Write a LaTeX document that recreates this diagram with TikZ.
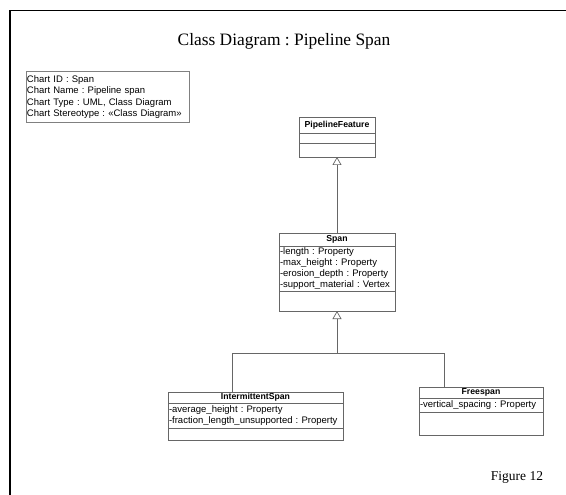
\documentclass[tikz,border=0pt]{standalone}
\usepackage{fontspec}
\setmainfont{Liberation Serif}
\newfontfamily\umlfont{Liberation Sans}
\usetikzlibrary{positioning,arrows.meta}
\frenchspacing

\begin{document}
\begin{tikzpicture}[x=1pt,y=-1pt]
    \tikzstyle{class_name}=[rectangle, draw=black!60, line width=0.7pt, outer sep=0pt, inner xsep=1pt, inner ysep=0pt, anchor=north, font=\umlfont\fontsize{8.7}{10}\bfseries]
    \tikzstyle{class_part}=[rectangle, draw=black!60, line width=0.7pt, outer sep=0pt, inner xsep=1pt, inner ysep=1pt, align=left, font=\umlfont\fontsize{9.5}{11}\selectfont]
    \tikzstyle{info_style}=[rectangle, draw=black!50, line width=0.7pt, outer sep=0pt, inner xsep=1pt, inner ysep=1pt, align=left, anchor=north west, font=\umlfont\fontsize{9.5}{11.5}\selectfont]
    \tikzstyle{gen_style}=[-{Triangle[open, width=9pt, length=8pt]}, color=black!60, line width=0.7pt]
    \tikzstyle{link_style}=[draw=black!60, line width=0.7pt]

    \useasboundingbox (0,0) rectangle (566,495);

    % frame
    \draw[line width=1.4pt] (10,495) -- (10,10.5) -- (566,10.5);

    % title and figure number
    \node at (284,41) (title) {\fontsize{17.4}{20}\selectfont Class Diagram : Pipeline Span};
    \node at (517,477) (figure_no) {\fontsize{13.5}{16}\selectfont Figure 12};

    % chart info
    \draw node at (26,71.5) [info_style, text width=161pt, minimum height=51pt] (chart_info) {
      Chart ID : Span\\
      Chart Name : Pipeline span\\
      Chart Type : UML, Class Diagram\\
      Chart Stereotype : «Class Diagram»
    };

    % PipelineFeature
    \draw node at (337,117) [class_name, minimum width=76pt, minimum height=16pt] (pf_name) {PipelineFeature};
    \node [class_part, below=0pt of pf_name, text width=74pt, minimum height=10pt] (pf_attr) {};
    \node [class_part, below=0pt of pf_attr, text width=74pt, minimum height=14pt] (pf_op) {};

    % Span
    \draw node at (337,233) [class_name, minimum width=116pt, minimum height=13pt] (span_name) {Span};
    \node [class_part, below=0pt of span_name, text width=114pt, minimum height=45pt] (span_attr) {
      -length : Property\\
      -max\_height : Property\\
      -erosion\_depth : Property\\
      -support\_material : Vertex
    };
    \node [class_part, below=0pt of span_attr, text width=114pt, minimum height=20pt] (span_op) {};

    % IntermittentSpan
    \draw node at (255.5,392) [class_name, minimum width=175pt, minimum height=11pt] (int_name) {IntermittentSpan};
    \node [class_part, below=0pt of int_name, text width=173pt, minimum height=25pt] (int_attr) {
      -average\_height : Property\\
      -fraction\_length\_unsupported : Property
    };
    \node [class_part, below=0pt of int_attr, text width=173pt, minimum height=12pt] (int_op) {};

    % Freespan
    \draw node at (481,387) [class_name, minimum width=124pt, minimum height=11pt] (free_name) {Freespan};
    \node [class_part, below=0pt of free_name, text width=122pt, minimum height=14pt] (free_attr) {
      -vertical\_spacing : Property
    };
    \node [class_part, below=0pt of free_attr, text width=122pt, minimum height=23pt] (free_op) {};

    % connect: subclasses -> Span
    \coordinate (branch) at (337,353.5);
    \draw[link_style] ([xshift=-23.5pt]int_name.north) |- (branch);
    \draw[link_style] ([xshift=-37pt]free_name.north) |- (branch);
    \path[gen_style] (branch) edge node[] {} (span_op.south);

    % connect: Span -> PipelineFeature
    \path[gen_style] (span_name.north) edge node[] {} (pf_op.south);

\end{tikzpicture}
\end{document}
